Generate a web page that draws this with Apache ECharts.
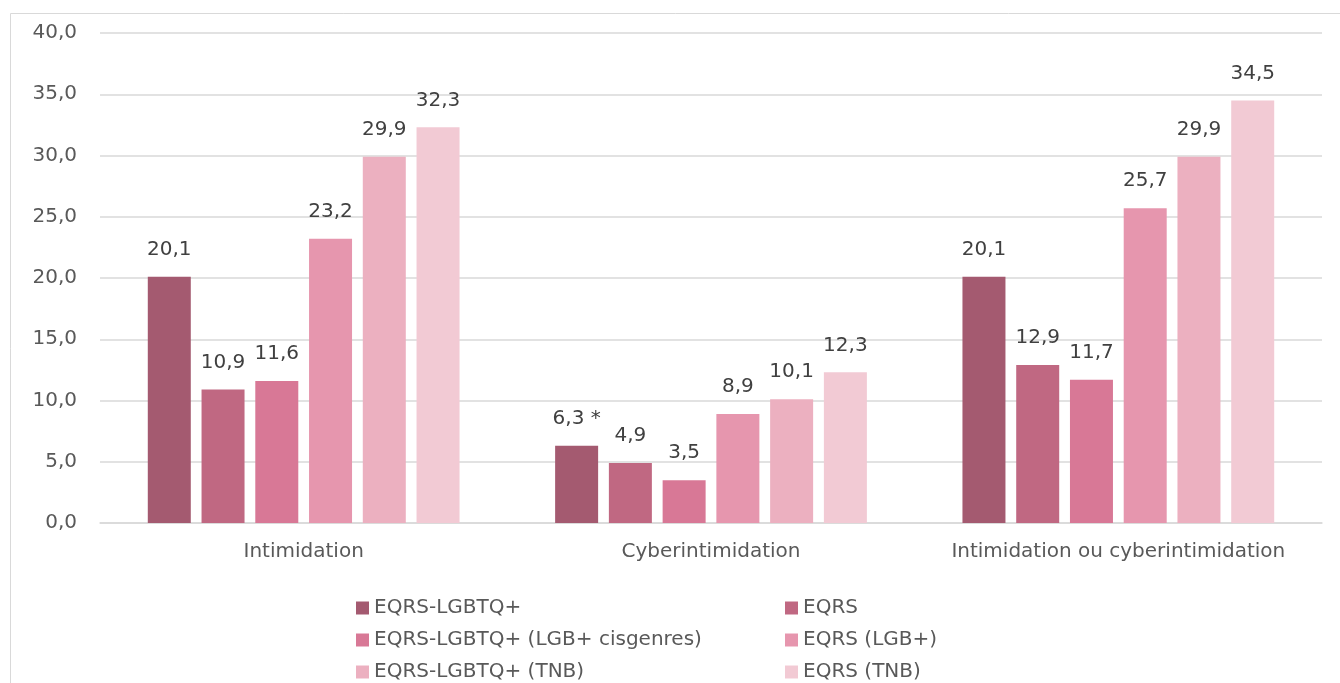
<!DOCTYPE html>
<html>
<head>
<meta charset="utf-8">
<script src="https://cdn.jsdelivr.net/npm/echarts@6/dist/echarts.min.js"></script>
<style>
  html, body { margin: 0; padding: 0; background: #fff; }
  #draw { width: 1340px; height: 683px; }
</style>
</head>
<body>
<div id="draw"></div>
<script>
  // catégories et séries
  var categories = ['Intimidation', 'Cyberintimidation', 'Intimidation ou cyberintimidation']
  var seriesNames = ['EQRS-LGBTQ+', 'EQRS', 'EQRS-LGBTQ+ (LGB+ cisgenres)', 'EQRS (LGB+)', 'EQRS-LGBTQ+ (TNB)', 'EQRS (TNB)']
  var eqrsLgbtq = [20.1, 6.3, 20.1]
  var eqrs = [10.9, 4.9, 12.9]
  var eqrsLgbtqCis = [11.6, 3.5, 11.7]
  var eqrsLgb = [23.2, 8.9, 25.7]
  var eqrsLgbtqTnb = [29.9, 10.1, 29.9]
  var eqrsTnb = [32.3, 12.3, 34.5]
  // étoile : valeur à interpréter avec prudence
  var starred = [['EQRS-LGBTQ+', 1]]
  var yTicks = { min: 0, max: 40, interval: 5 }

  var values = [eqrsLgbtq, eqrs, eqrsLgbtqCis, eqrsLgb, eqrsLgbtqTnb, eqrsTnb]
  var colors = ['#A45A70', '#C06882', '#D87896', '#E696AE', '#ECB0C0', '#F2CAD4']
  var font = 'DejaVu Sans, sans-serif'

  function fmt (v) {
    return v.toFixed(1).replace('.', ',')
  }

  var series = []
  for (var i = 0; i < values.length; i++) {
    series.push({
      name: seriesNames[i],
      type: 'bar',
      barWidth: 43,
      barGap: '25%',
      itemStyle: { color: colors[i] },
      label: {
        show: true,
        position: 'top',
        distance: 17,
        color: '#404040',
        fontSize: 20,
        fontFamily: font,
        formatter: function (p) {
          var s = fmt(p.value)
          starred.forEach(function (st) {
            if (st[0] === p.seriesName && st[1] === p.dataIndex) s += ' *'
          })
          return s
        }
      },
      data: values[i]
    })
  }

  var legendText = { fontSize: 20, color: '#595959', fontFamily: font }
  var myChart = echarts.init(document.getElementById('draw'))
  myChart.setOption({
    animation: false,
    graphic: [{
      type: 'rect',
      shape: { x: 10.5, y: 13.5, width: 1340, height: 680 },
      style: { fill: 'none', stroke: '#d9d9d9', lineWidth: 1 },
      silent: true
    }],
    grid: { left: 100, right: 18, top: 33, bottom: 160 },
    legend: [{
      data: [seriesNames[0], seriesNames[2], seriesNames[4]],
      orient: 'vertical',
      left: 351,
      top: 593,
      height: 110,
      icon: 'rect',
      itemWidth: 13,
      itemHeight: 13,
      itemGap: 12,
      textStyle: legendText
    }, {
      data: [seriesNames[1], seriesNames[3], seriesNames[5]],
      orient: 'vertical',
      left: 780,
      top: 593,
      height: 110,
      icon: 'rect',
      itemWidth: 13,
      itemHeight: 13,
      itemGap: 12,
      textStyle: legendText
    }],
    xAxis: {
      type: 'category',
      data: categories,
      axisTick: { show: false },
      axisLine: { lineStyle: { color: '#d9d9d9', width: 1.5 } },
      axisLabel: { interval: 0, color: '#595959', fontSize: 20, fontFamily: font, margin: 19 }
    },
    yAxis: {
      type: 'value',
      min: yTicks.min,
      max: yTicks.max,
      interval: yTicks.interval,
      axisLine: { show: false },
      axisTick: { show: false },
      axisLabel: {
        color: '#595959', fontSize: 20, fontFamily: font, margin: 23,
        formatter: function (v) { return fmt(v) }
      },
      splitLine: { lineStyle: { color: '#d9d9d9', width: 1.5 } }
    },
    series: series
  })
</script>
</body>
</html>
